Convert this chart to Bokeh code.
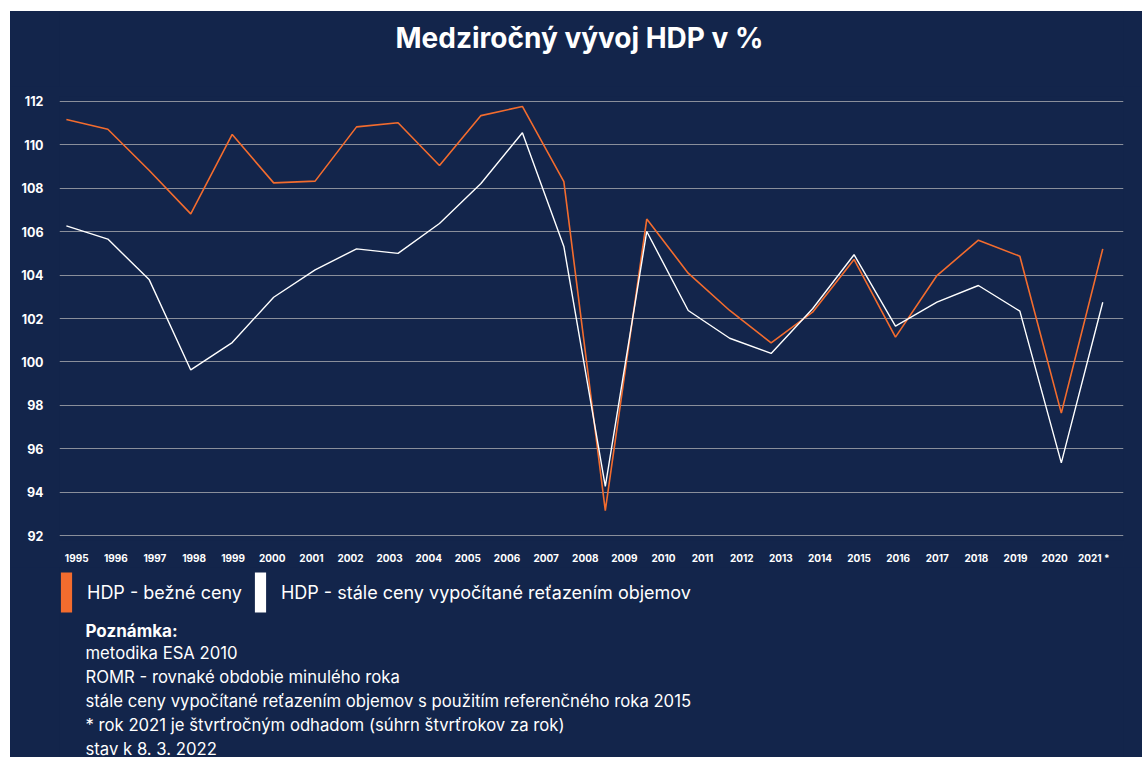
from bokeh.plotting import figure
from bokeh.layouts import column
from bokeh.models import (Range1d, LinearAxis, FixedTicker, SingleIntervalTicker,
                          Label, Legend, LegendItem, ColumnDataSource)
from bokeh.embed import file_html
from bokeh.resources import INLINE

# ---------------- data ----------------
title_text = "Medziročný vývoj HDP v %"
year_labels = ["1995", "1996", "1997", "1998", "1999", "2000", "2001", "2002", "2003",
               "2004", "2005", "2006", "2007", "2008", "2009", "2010", "2011", "2012",
               "2013", "2014", "2015", "2016", "2017", "2018", "2019", "2020", "2021 *"]
current_prices = [111.17, 110.72, 108.82, 106.82, 110.48, 108.25, 108.33, 110.83, 111.02,
                  109.05, 111.35, 111.77, 108.31, 93.15, 106.58, 104.09, 102.37, 100.88,
                  102.29, 104.72, 101.14, 103.98, 105.61, 104.87, 97.64, 105.21]
constant_prices = [106.27, 105.66, 103.78, 99.63, 100.89, 102.98, 104.24, 105.21, 105.00,
                   106.38, 108.22, 110.56, 105.32, 94.26, 106.01, 102.37, 101.09, 100.39,
                   102.45, 104.94, 101.65, 102.75, 103.52, 102.34, 95.35, 102.75]
series_names = ["HDP - bežné ceny", "HDP - stále ceny vypočítané reťazením objemov"]
note_title = "Poznámka:"
note_lines = ["metodika ESA 2010",
              "ROMR  - rovnaké obdobie minulého roka",
              "stále ceny vypočítané reťazením objemov s použitím referenčného roka 2015",
              "* rok 2021 je štvrťročným odhadom (súhrn štvrťrokov za rok)",
              "stav k 8. 3. 2022"]

# ---------------- style ----------------
NAVY = "#13254b"
ORANGE = "#f36c2e"
WHITE = "#ffffff"
GRID = "#8a8f9b"
FONT = "Inter"
W = 1132
BL, BR = 49, 19          # left / right borders shared by all stacked figures
FW = W - BL - BR         # frame width


def blank(height):
    f = figure(width=W, height=height, output_backend="svg", toolbar_location=None,
               x_range=Range1d(0, FW), y_range=Range1d(height, 0),
               x_axis_location=None, y_axis_location=None,
               min_border_left=BL, min_border_right=BR,
               min_border_top=0, min_border_bottom=0,
               styles={"background-color": NAVY})
    f.background_fill_color = NAVY
    f.border_fill_color = NAVY
    f.outline_line_color = None
    f.grid.visible = False
    return f


# ---------------- title ----------------
pt = blank(75)
pt.add_layout(Label(x=520, y=26, text=title_text, text_align="center",
                    text_baseline="middle", text_color=WHITE, text_font=FONT,
                    text_font_style="bold", text_font_size="28px"))

# ---------------- main chart ----------------
idx = list(range(len(current_prices)))
src = ColumnDataSource(dict(x=idx, cur=current_prices, const=constant_prices))

p = figure(width=W, height=481, output_backend="svg", toolbar_location=None,
           x_range=Range1d(-0.166, 25.50), y_range=Range1d(91.77, 112.23),
           x_axis_location=None, min_border_left=BL, min_border_right=BR,
           min_border_top=10, min_border_bottom=27,
           styles={"background-color": NAVY})
p.background_fill_color = NAVY
p.border_fill_color = NAVY
p.outline_line_color = None

p.extra_x_ranges = {"lab": Range1d(-0.44, 26.76)}
xax = LinearAxis(x_range_name="lab",
                 ticker=FixedTicker(ticks=list(range(len(year_labels)))),
                 major_label_overrides={i: t for i, t in enumerate(year_labels)})
xax.axis_line_color = None
xax.major_tick_line_color = None
xax.minor_tick_line_color = None
xax.major_tick_out = 0
xax.major_tick_in = 0
xax.major_label_standoff = 11
xax.major_label_text_color = WHITE
xax.major_label_text_font = FONT
xax.major_label_text_font_style = "bold"
xax.major_label_text_font_size = "10px"
p.add_layout(xax, "below")

p.yaxis.ticker = SingleIntervalTicker(interval=2, num_minor_ticks=0)
p.yaxis.axis_line_color = None
p.yaxis.major_tick_line_color = None
p.yaxis.minor_tick_line_color = None
p.yaxis.major_tick_out = 0
p.yaxis.major_tick_in = 0
p.yaxis.major_label_standoff = 16
p.yaxis.major_label_text_color = WHITE
p.yaxis.major_label_text_font = FONT
p.yaxis.major_label_text_font_style = "bold"
p.yaxis.major_label_text_font_size = "12.5px"

p.xgrid.visible = False
p.ygrid.grid_line_color = GRID
p.ygrid.grid_line_width = 1

p.line("x", "cur", source=src, line_color=ORANGE, line_width=1.6)
p.line("x", "const", source=src, line_color=WHITE, line_width=1.4)

# ---------------- legend + notes ----------------
H_NOTES = 190
pn = blank(H_NOTES)
# off-screen swatch renderers used only to feed the legend
sw_src = ColumnDataSource(dict(l=[-500], r=[-490], t=[-500], b=[-490]))
r1 = pn.quad(left="l", right="r", top="t", bottom="b", source=sw_src,
             fill_color=ORANGE, line_color=None)
r2 = pn.quad(left="l", right="r", top="t", bottom="b", source=sw_src,
             fill_color=WHITE, line_color=None)
legend = Legend(items=[LegendItem(label=series_names[0], renderers=[r1]),
                       LegendItem(label=series_names[1], renderers=[r2])],
                location=(0, H_NOTES - 50), orientation="horizontal",
                glyph_width=14, glyph_height=50, label_standoff=14, spacing=11,
                padding=0, margin=0, border_line_color=None,
                background_fill_alpha=0,
                label_text_color=WHITE, label_text_font=FONT,
                label_text_font_size="18px", label_text_font_style="normal")
pn.add_layout(legend, "center")

pn.add_layout(Label(x=26, y=63, text=note_title, text_align="left",
                    text_baseline="middle", text_color=WHITE, text_font=FONT,
                    text_font_style="bold", text_font_size="17px"))
for k, line in enumerate(note_lines):
    pn.add_layout(Label(x=26, y=85 + 24 * k, text=line, text_align="left",
                        text_baseline="middle", text_color=WHITE, text_font=FONT,
                        text_font_size="16.7px"))

layout = column(pt, p, pn, spacing=0, margin=(11, 0, 0, 10),
                styles={"background-color": NAVY})
open("out.html", "w").write(file_html(layout, INLINE))
